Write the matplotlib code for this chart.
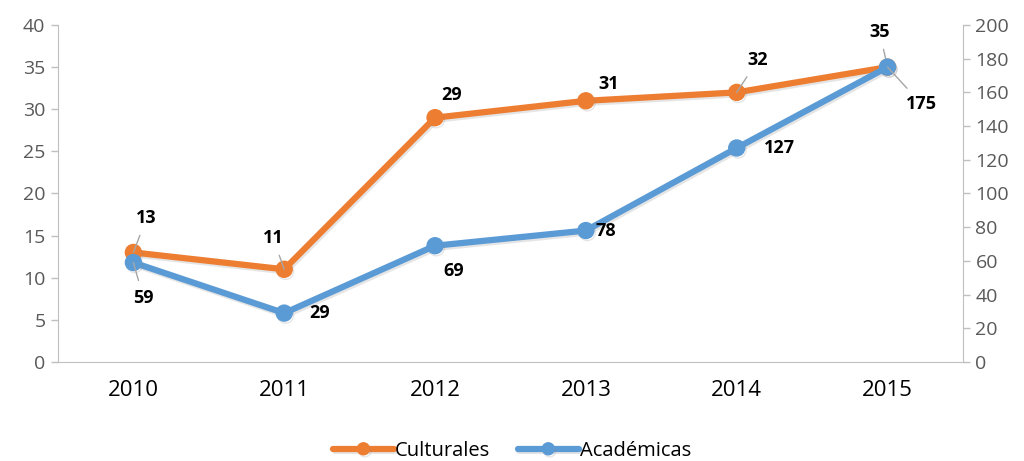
import matplotlib.pyplot as plt
import matplotlib.patheffects as pe

plt.rcParams['font.family'] = ['Open Sans', 'DejaVu Sans']

years = ["2010", "2011", "2012", "2013", "2014", "2015"]
culturales = [13, 11, 29, 31, 32, 35]
academicas = [59, 29, 69, 78, 127, 175]

# label offsets in pixels (dx, dy) and whether a leader line is drawn
cult_offsets = [(13, 34, True), (-11, 31, True), (17, 23, False), (23, 17, False), (21, 32, True), (-8, 35, True)]
acad_offsets = [(10, -35, True), (35, 0, False), (19, -25, False), (20, 0, False), (43, 0, False), (34, -37, True)]

orange = "#ED7D31"
blue = "#5B9BD5"
axis_gray = "#BFBFBF"
tick_gray = "#595959"

fig = plt.figure(figsize=(10.24, 4.61), dpi=100)
ax = fig.add_axes([0.0566, 0.2148, 0.8838, 0.7310])
ax2 = ax.twinx()

x = list(range(len(years)))
shadow = [pe.SimpleLineShadow(offset=(1, -1.5), shadow_color="gray", alpha=0.2), pe.Normal()]

l1, = ax.plot(x, culturales, color=orange, lw=4.5, marker="o", ms=11.5,
              solid_capstyle="round", path_effects=shadow, label="Culturales", zorder=3)
l2, = ax2.plot(x, academicas, color=blue, lw=4.5, marker="o", ms=11.5,
               solid_capstyle="round", path_effects=shadow, label="Académicas", zorder=3)

ax.set_xlim(-0.5, len(years) - 0.5)
ax.set_ylim(0, 40)
ax2.set_ylim(0, 200)
ax.set_yticks(range(0, 41, 5))
ax2.set_yticks(range(0, 201, 20))
ax.set_xticks(x)
ax.set_xticklabels(years)

for a in (ax, ax2):
    for s in a.spines.values():
        s.set_visible(False)
    a.tick_params(axis="y", colors=axis_gray, labelcolor=tick_gray, labelsize=14,
                  length=5, width=1, direction="out", pad=4)
ax.spines["left"].set_visible(True)
ax.spines["left"].set_color(axis_gray)
ax.spines["bottom"].set_visible(True)
ax.spines["bottom"].set_color(axis_gray)
ax2.spines["right"].set_visible(True)
ax2.spines["right"].set_color(axis_gray)
ax.tick_params(axis="x", length=0, labelsize=16, labelcolor="black", pad=13)

for a, vals, offs in ((ax, culturales, cult_offsets), (ax2, academicas, acad_offsets)):
    for xi, v, (dx, dy, lead) in zip(x, vals, offs):
        props = None
        if lead:
            props = dict(arrowstyle="-", color="#A6A6A6", lw=1, shrinkA=4, shrinkB=0)
        a.annotate(str(v), (xi, v), xytext=(dx, dy), textcoords="offset pixels",
                   ha="center", va="center", fontsize=13, fontweight="bold",
                   color="black", arrowprops=props, zorder=5)

fig.legend(handles=[l1, l2], loc="center", bbox_to_anchor=(0.5, 0.022), ncol=2,
           frameon=False, fontsize=14.5, handlelength=3.0, handletextpad=0.05,
           columnspacing=1.4, markerscale=0.75)

plt.savefig("out.png", dpi=100)
plt.close()
